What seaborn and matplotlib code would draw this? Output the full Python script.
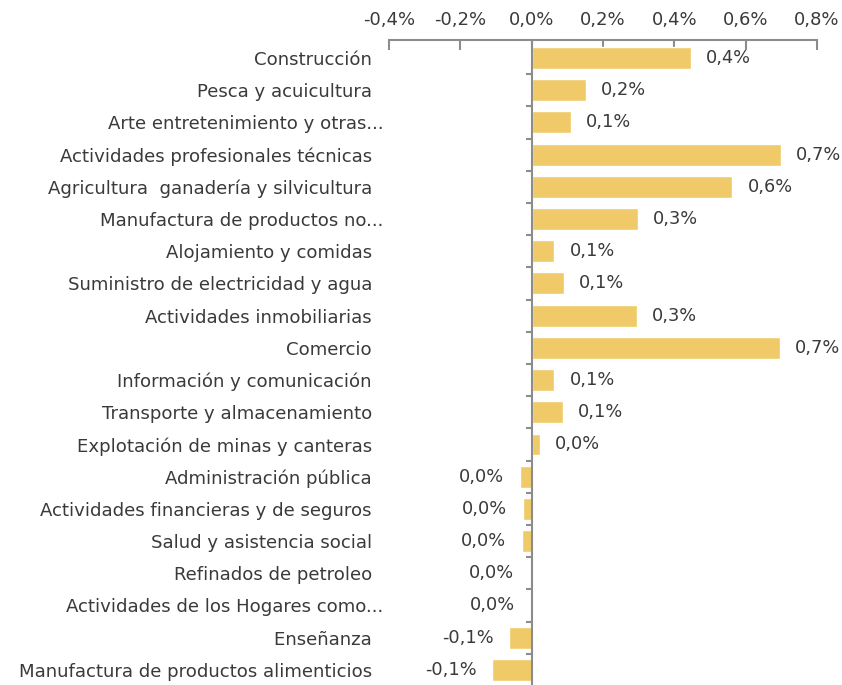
import pandas as pd
import numpy as np
import seaborn as sns
import matplotlib.pyplot as plt
from matplotlib.ticker import FuncFormatter, FixedLocator

sectores = ['Construcción  ', 'Pesca y acuicultura  ', 'Arte entretenimiento y otras...',
            'Actividades profesionales técnicas  ', 'Agricultura  ganadería y silvicultura  ',
            'Manufactura de productos no...', 'Alojamiento y comidas  ',
            'Suministro de electricidad y agua  ', 'Actividades inmobiliarias  ', 'Comercio  ',
            'Información y comunicación  ', 'Transporte y almacenamiento  ',
            'Explotación de minas y canteras  ', 'Administración pública  ',
            'Actividades financieras y de seguros  ', 'Salud y asistencia social  ',
            'Refinados de petroleo  ', 'Actividades de los Hogares como...', 'Enseñanza  ',
            'Manufactura de productos alimenticios  ']
variacion = [0.446, 0.152, 0.109, 0.698, 0.563, 0.297, 0.064, 0.090, 0.294, 0.695,
             0.064, 0.087, 0.022, -0.034, -0.025, -0.028, -0.006, -0.005, -0.064, -0.112]

df = pd.DataFrame({'sector': sectores, 'var': variacion})

sns.set_style('white')
plt.rcParams['font.family'] = ['DejaVu Sans']
gris = '#3a3a3a'
linea = '#8c8c8c'

fig = plt.figure(figsize=(8.42, 6.85), dpi=100)
ax = fig.add_axes([389/842, 0, (817-389)/842, 1 - 40/685])
sns.barplot(data=df, x='var', y='sector', orient='h', color='#F0CA68', saturation=1,
            width=0.68, ax=ax)

ax.set_xlim(-0.4, 0.8)
ax.set_ylim(19.47, -0.56)
ax.set_xlabel('')
ax.set_ylabel('')

def pct(v, pos=None):
    return f"{round(v, 1) + 0.0:.1f}%".replace('.', ',')

ax.xaxis.set_major_locator(FixedLocator(np.arange(-0.4, 0.81, 0.2)))
ax.xaxis.set_major_formatter(FuncFormatter(pct))
ax.xaxis.tick_top()
ax.tick_params(axis='x', which='major', top=True, bottom=False, direction='in', length=7,
               width=1.5, color=linea, labelsize=13, labelcolor=gris, pad=8)

for s in ['bottom', 'left']:
    ax.spines[s].set_visible(False)
ax.spines['top'].set_color(linea)
ax.spines['top'].set_linewidth(1.5)
ax.spines['right'].set_position(('data', 0))
ax.spines['right'].set_color(linea)
ax.spines['right'].set_linewidth(1.5)

ax.bar_label(ax.containers[0], labels=[pct(v) for v in variacion], padding=11,
             fontsize=12.8, color=gris)

ax.yaxis.set_minor_locator(FixedLocator(np.arange(0.5, len(sectores) - 0.5, 1)))
ax.yaxis.set_ticks_position('both')
ax.tick_params(axis='y', which='major', left=True, right=False, length=0,
               labelsize=13.1, labelcolor=gris, pad=4)
ax.tick_params(axis='y', which='minor', left=False, right=True, direction='in',
               length=4.5, width=1.5, color=linea)

fig.savefig('out.png', dpi=100)
